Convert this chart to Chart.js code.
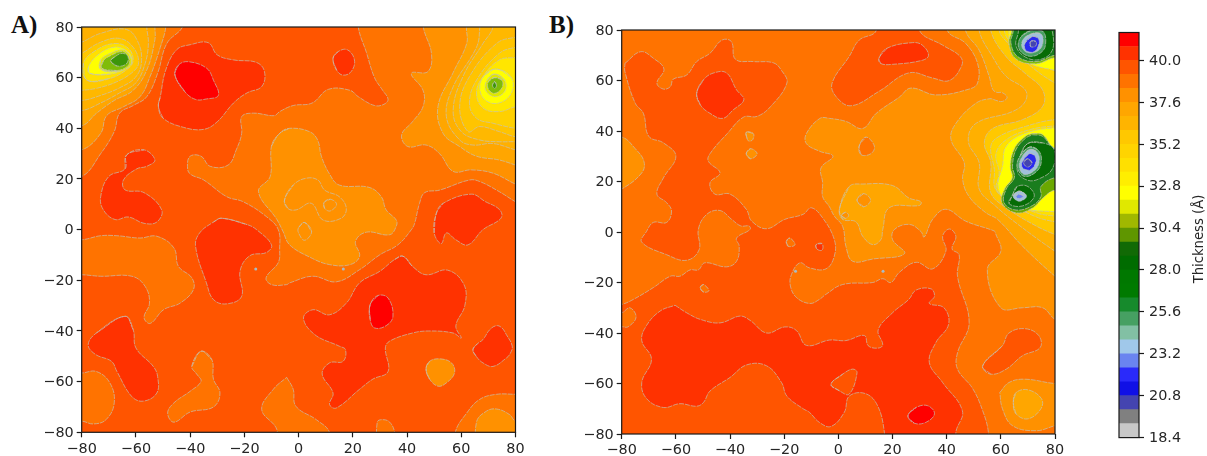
<!DOCTYPE html>
<html><head><meta charset="utf-8">
<script src="https://cdn.jsdelivr.net/npm/chart.js@4"></script>
<style>
html,body{margin:0;padding:0;background:#fff;width:1207px;height:456px;overflow:hidden}
canvas{position:absolute;top:0}
.tag{position:absolute;font:bold 25px "Liberation Serif",serif;color:#111;line-height:25px}
</style></head><body>
<div class="tag" style="left:11px;top:12px">A)</div>
<div class="tag" style="left:549px;top:12px">B)</div>
<canvas id="ca" style="left:0" width="540" height="456"></canvas>
<canvas id="cb" style="left:540px" width="560" height="456"></canvas>
<canvas id="cc" style="left:1100px" width="107" height="456"></canvas>
<script>
// axis ticks
const axisTicks=[-80,-60,-40,-20,0,20,40,60,80];
const barTicks=[18.4,20.8,23.2,25.6,28.0,30.4,32.8,35.2,37.6,40.0];
// colour bar: band edges and colours (bottom to top)
const barEdges=[18.4,19.2,20,20.8,21.6,22.4,23.2,24,24.8,25.6,26.4,27.2,28,28.8,29.6,30.4,31.2,32,32.8,33.6,34.4,35.2,36,36.8,37.6,38.4,39.2,40,40.8,41.6];
const barColors=['#c8c8c8','#808080','#4444b0','#1010e6','#2a2afa','#6a84f0','#a0c8ea','#82c0a4','#46a062','#168a2c','#007a00','#007800','#006c00','#116a05','#5f9600','#a0b800','#e0e800','#ffff00','#ffee00','#ffe000','#ffd400','#ffc800','#ffb400','#ffa600','#ff9100','#ff7300','#ff5500','#ff3200','#ff0000'];
const C={r:'#ff0000',r1:'#ff3200',o1:'#ff5500',o2:'#ff7300',o3:'#ff9100',o4:'#ffa600',o5:'#ffb000',o6:'#ffb800',y0:'#ffc400',y1:'#ffc800',y15:'#ffd000',y2:'#ffd400',y3:'#ffe000',y35:'#ffe600',y4:'#ffee00',y5:'#ffff00',g1:'#e0e800',g2:'#80bc08',g3:'#3d960a',d1:'#1a7d1e',d2:'#066c06',d3:'#46a062',l1:'#a0c0dc',b1:'#2a2af0',b2:'#4444b0',gy:'#808080'};

// ---------- Panel A contour regions [x,y] ----------
const aBase=[[-90,-90],[90,-90],[90,90],[-90,90]];
const aO2a=[[-90,21],[-80,21],[-73,30],[-68,38.7],[-66,46],[-61,49],[-56,52.5],[-52,61.7],[-48.6,73.5],[-42.8,80],[-40,90],[-90,90]];
const aO2b=[[22,90],[22,80],[25,70],[28,60],[31,55],[33,51.5],[31.5,49.5],[28,49],[22,52.5],[19,55],[11,55.4],[5,50],[-2,49],[-7,46.6],[-9,45],[-16.7,46],[-21,44.6],[-21,38],[-23,31.5],[-26,25.5],[-32.6,25],[-36,29],[-40,29],[-41,25],[-40,22],[-35,19.6],[-26.5,13],[-20.4,11],[-11.7,5],[-7.5,0],[-7,-7.9],[-7.5,-13],[-12,-19],[-10,-21.7],[-4.4,-21.7],[-3.3,-21],[5.3,-18.4],[13.9,-20.6],[22.5,-15.8],[30,-9.9],[36.6,-6],[41.6,0],[42.8,2.5],[44.6,10.4],[46.5,14.6],[52,15.6],[63,19.6],[66.8,19],[74,15],[80,11],[90,5],[90,90]];
const aO2c=[[-90,-4],[-80,-4],[-73,-2.4],[-67,-2.4],[-58.5,-3.3],[-52.3,-2.6],[-46,-7.2],[-44.3,-14.5],[-39.4,-19],[-38.8,-23.7],[-43.7,-29],[-49.8,-31.6],[-54.7,-37],[-57,-34.7],[-55,-29],[-56.6,-22.4],[-61.5,-18.4],[-73,-18.4],[-80,-17.8],[-90,-17.8]];
const aO2d=[[-90,-56.6],[-80,-56.6],[-74.6,-56],[-69.6,-60.5],[-68,-68.4],[-71,-75],[-75.7,-76.7],[-80,-75.6],[-90,-75.6]];
const aO2e=[[-36,-48],[-32,-51.3],[-31.4,-59],[-29,-64.5],[-31.4,-70],[-40,-72],[-46,-76],[-48.3,-72.4],[-46,-68.4],[-40,-63.8],[-36,-59.9],[-37.6,-57],[-39.4,-54]];
const aO2f=[[-4.4,-58.3],[-2,-63],[-1,-69.7],[6.5,-75],[11.4,-80],[12,-90],[-8,-90],[-8,-79],[-13.6,-71],[-9.3,-63]];
const aO2g=[[29,-90],[29,-76],[31,-75],[33.6,-76],[35.4,-80],[36,-90]];
const aO2h=[[57.8,-90],[57.8,-80],[62,-72.4],[66.8,-67],[73,-65],[80,-65],[90,-65],[90,-90]];
const aO3a=[[-7,38],[-3.3,40],[4,38.7],[7,35.4],[8.4,29],[11.4,22],[15,17.6],[26,16.7],[30.5,13],[32.3,7.8],[36,3.8],[36,1.3],[33.6,-2],[25,-1],[21,-4.6],[22.5,-10.5],[19,-13.8],[11.4,-13.8],[4,-10.8],[-3.3,-6],[-5.8,-0.6],[-8,4],[-14.8,15],[-10.5,21],[-10,33]];
const aO3b=[[46,90],[46,80],[49,69.6],[47.7,62.4],[41.6,61.7],[45.9,55],[45.9,48.6],[42,42.6],[38,37.4],[40.3,32.8],[47,33.4],[52,30],[57,23],[63.7,23.6],[71.7,22.3],[80,18],[90,14],[90,90]];
const aO3c=[[47,-55],[48.3,-52],[52,-51],[56.4,-52.6],[57.5,-56.6],[54.5,-60.5],[51.4,-61.8],[48.3,-59]];
const aO3d=[[65.6,-90],[65.6,-76],[69.2,-71.7],[73,-70.8],[77.8,-73],[80,-75.7],[90,-80],[90,-90]];
const aO3e=[[-90,31.5],[-80,31.5],[-73,38],[-70.8,45],[-64.6,48.5],[-58.5,52.5],[-54.8,60.4],[-51,72],[-49,80],[-49,90],[-90,90]];
const aRingIn=[[-5.2,11.7],[-2,17.6],[2.8,20.3],[7.1,19.6],[9.6,15.6],[15,13],[17.6,8.4],[15.7,4.5],[9,3.8],[4.7,10.4],[-0.9,7.8],[-4,8.4]];
const aRingDot=[[9.4,10.7],[11.7,12],[14,10],[11.7,7.4],[9.6,8.4]];
const aRingOval=[[2.2,2.8],[4.8,-0.8],[2.2,-4.2],[0,-1.3],[0,0.8]];
const aR1a=[[-51.7,48.6],[-51,52.5],[-49,63],[-45,71],[-40,73],[-33.3,73.8],[-30,69],[-24,67],[-15.5,66],[-12.6,62.4],[-13.6,56.5],[-19,54],[-24,50],[-30,42.6],[-35,39.6],[-42.5,40.4],[-50,44]];
const aR1b=[[12.7,67.6],[14.6,70.3],[18,71],[20.6,67],[19.4,62.4],[16.4,61],[14,63]];
const aR1c=[[-63.4,29.5],[-57,31.5],[-53,27.5],[-56,25],[-59.7,24],[-64.6,19.6],[-64,15.7],[-57,14.6],[-50.5,7.8],[-52.3,3],[-57,2.5],[-62.8,5],[-67.7,4],[-72,7.8],[-73,13],[-70,21],[-64,24]];
const aR1d=[[-28.4,4.5],[-19,2],[-15.5,0],[-10,-6],[-11.8,-9],[-18,-10.3],[-21.6,-16.4],[-21,-26.3],[-26.5,-29.3],[-31.4,-27.6],[-34,-21],[-38,-6.6],[-36.5,-1.3],[-31.4,3]];
const aR1e=[[-64,-34.2],[-61,-39.5],[-60,-46.7],[-53.6,-54],[-52,-58],[-52.3,-64.5],[-57.3,-67.7],[-61.6,-65.8],[-67,-56],[-69,-52],[-75,-49.2],[-77.6,-45.4],[-74.6,-40.8]];
const aR1f=[[38.5,-10.5],[42,-14.5],[47,-17.8],[55,-16],[61,-21.7],[61.3,-30],[58,-38],[60,-42.8],[57,-40.8],[48,-40],[42,-40.8],[33.6,-44],[32,-46.7],[33,-56],[27.4,-59],[22.5,-63],[13.9,-70.4],[11.4,-69],[12.7,-64.5],[8.7,-57],[11.4,-52.6],[16.4,-52],[17.3,-47.4],[15,-46],[5.9,-41.4],[1.8,-34.9],[5.3,-31.6],[11.4,-33.6],[17.6,-29],[22.5,-21],[30,-16.4],[35.4,-11.8]];
const aR1g=[[50.8,6.4],[53.3,10.4],[63.7,14],[69,11],[73.5,8.5],[75,6],[74,3.8],[68,0],[62.5,-6],[58,-4],[54.5,-1.3],[52.6,-5.5],[50,-1.3]];
const aR1h=[[64.3,-47.4],[66,-45],[68,-43.4],[70.5,-39.5],[73,-37.9],[75,-38.8],[76.6,-41.4],[78.8,-46],[78,-49],[76.6,-50.7],[71.7,-54],[68,-52.6],[65.5,-50]];
const aRa=[[-45.6,61],[-44.3,65],[-40.6,66.3],[-33.9,63.7],[-31.4,59],[-29.6,53],[-34,51.6],[-38,51.4],[-42,54.5]];
const aRb=[[26.4,-29.6],[29.3,-26],[33,-27],[34.8,-34.2],[32.3,-37.9],[28,-38.8],[26.4,-35.5]];
// top-right peak of A
const aTr1=[[62,90],[61.9,79.5],[62,73.5],[57,62],[51.4,48.6],[53.3,38],[59.4,32.8],[65.6,29],[74,27.5],[80,25.5],[90,22],[90,90]];
const aTr2=[[67,90],[66.8,79.5],[65.6,72],[57,56.4],[54.5,44.6],[59.4,35.4],[64.3,33.4],[71.7,34],[80,31.5],[90,29],[90,90]];
const aTr3=[[72,90],[71.7,80],[68,73.5],[60.6,60.4],[57,47],[60,38.7],[66.8,35.4],[74,34.7],[80,34.7],[90,34],[90,90]];
const aTr4=[[90,78],[80,76],[73,73.5],[63,60.4],[59.4,48.6],[62.5,38.7],[66.8,40.7],[74,38.7],[80,36.7],[90,36]];
const aTr5=[[90,74],[80,72],[74,69.6],[65.6,59],[63,50],[65.6,44],[71.7,42],[80,40],[90,39]];
const aTr6=[[90,70],[80,68],[74,67],[68,60.4],[65.6,54],[68,48],[74,46.6],[80,48.5],[90,50]];
const aTr7=[[73,63.4],[68.6,61],[66.8,55.8],[69,51],[74,50],[78.5,54],[78.5,60]];
const aTr8=[[72.3,61.4],[69.5,59],[69,55],[72.3,52.5],[76,54.5],[76,59]];
const aTr9=[[72.3,60],[70,58.4],[70,55.5],[72.3,53.8],[75,56],[75,59]];
const aTr10=[[72.3,58.4],[71.5,57],[72.3,55.7],[73,57]];
// top-left peak of A
const aTl1=[[-90,41],[-80,41],[-74.5,46],[-68,51],[-61,55],[-56,63],[-53,75],[-53,80],[-53,90],[-90,90]];
const aTl2=[[-90,47],[-80,47],[-73,50],[-66,54],[-60,58],[-56.6,65.6],[-55.4,73.5],[-56,80],[-56,90],[-90,90]];
const aTl3=[[-90,51],[-80,51],[-73,53],[-66,56],[-60.3,60],[-58,65.7],[-59,73.5],[-63.4,79],[-73,77.5],[-80,74],[-90,70]];
const aTl4=[[-90,54],[-80,55],[-74.5,55.8],[-67,58.4],[-61,62.4],[-59,66],[-61,72],[-66,75.5],[-73,74],[-80,69.6],[-90,64]];
const aTl5=[[-78,59],[-69.5,59.7],[-62.8,63.7],[-61,67],[-62.8,71.6],[-67.7,73.5],[-74.5,71],[-79.4,65.6]];
const aTl6=[[-77,61.7],[-69.5,61.4],[-62.8,64.3],[-61.5,67.6],[-64,71],[-68.3,72],[-74,69],[-77.5,64.3]];
const aTl7=[[-73,63.3],[-67,62.4],[-62,65],[-62.4,69],[-65,71],[-69.5,69.6],[-73,67]];
const aTl8=[[-72.6,63.7],[-67,62.8],[-62.7,65],[-62.8,68.3],[-65,70.3],[-69.5,68.6],[-72,66.7]];
const aTl9=[[-69.3,66.6],[-67,64.6],[-63.6,65.4],[-62.9,68.3],[-65,69.6],[-67.7,68.3]];
const aDots=[[-15.8,-15.5],[16.5,-15.5]];

// ---------- Panel B contour regions [x,y] ----------
const bBase=[[-90,-90],[90,-90],[90,90],[-90,90]];
const bO3a=[[40.3,90],[40.3,79.7],[47,74.7],[51.4,66.8],[51.4,59],[48.3,56.6],[36,54.3],[26.8,57],[22.5,53.4],[14,47],[9,41],[2.8,43.8],[-3.3,45],[-6.8,45],[-11.8,39],[-11.8,35],[-7,32],[-2,30],[-6.4,25.4],[-5.8,19.5],[-5.8,14],[-3.3,10],[-1.5,6.3],[1.6,2.2],[2.8,-5.7],[5.3,-11.6],[12.7,-10.7],[24.4,-8.6],[20,-3],[20.7,1],[26.2,3],[30.5,0.2],[31.7,-2],[34.8,5],[39.7,9],[47,4.3],[57.6,0.4],[58,-0.4],[60,-7.6],[55,-14.9],[60,-30],[68,-30],[75.4,-30],[80,-34.6],[90,-40],[90,90]];
const bO3b=[[-90,37.6],[-80,37.6],[-75,33],[-71.8,28],[-72.6,23.4],[-80,17],[-90,12]];
const bO3c=[[-34,39.5],[-31.4,39],[-31.6,36.6],[-33,36],[-33.7,37]];
const bO3d=[[-34,31],[-32.4,33],[-30,31],[-32.4,29]];
const bO3e=[[59.6,-63.6],[63,-59.6],[69,-58.3],[80,-60],[90,-60],[90,-74],[80,-76.7],[73,-78.7],[64.3,-76.7],[60.6,-70]];
const bO4a=[[64.6,-67.5],[65.6,-63.6],[70,-62.5],[75,-66],[74.8,-70],[70,-74],[65.6,-72]];
const bHole=[[7.7,34],[10.2,37.6],[13.3,34],[12,31],[8.4,30.6]];
const bO4b=[[0.4,9],[4,18],[9,19],[20,18.4],[26,13.5],[30.5,12],[29.9,10.5],[18.8,9.6],[16.4,1],[15.7,-3],[12.7,-5],[9,-1.7],[6.5,4],[1.6,5]];
const bO3f=[[6.9,12.6],[9.3,15.2],[11.9,12.6],[9.3,10]];
const bO3g=[[1.2,6.6],[2.6,7.8],[3.8,6.6],[2.6,5.4]];
const bO4c=[[47,90],[47,79.7],[52,72],[55.7,61.6],[57,56.5],[58.5,55.3],[60.5,55.2],[62.3,53.3],[60.5,51.7],[58,52.2],[56,52.8],[50.8,51],[43.4,43],[41.6,36.6],[46.5,27.4],[45.9,20.8],[48.3,14],[54.5,7.6],[58.8,5],[68,-5.6],[80,-17.5],[90,-26],[90,90]];
const bO5=[[52,90],[52,79.7],[56.9,69.5],[61.9,61.7],[69,56.3],[69,51.7],[64.3,47.7],[50.8,43],[48,35.9],[52,27.4],[52,17],[58,10.3],[65.6,3.6],[80,-7.6],[90,-14],[90,90]];
const bY1=[[56.3,90],[56.3,79.7],[61.9,69.5],[69,62.8],[75.4,56.3],[75.4,49.7],[68,44.5],[57,41],[53.9,35.3],[56.3,27.4],[56.3,15.5],[63,8.9],[73,2.4],[80,-1],[90,-5],[90,90]];
const bY2a=[[59.4,90],[59.4,79.7],[62.4,75],[68,68.4],[80,59],[90,55],[90,90]];
const bY2b=[[90,44],[80,44.5],[69,41.8],[59.4,37.9],[56.3,34],[57.6,24.7],[58,17],[64.3,11],[73,6],[80,4],[90,2]];
const bY3a=[[61.3,90],[61.3,79.7],[63.7,75],[70.5,69],[80,64],[90,60],[90,90]];
const bY3b=[[90,42],[80,42],[70.5,40.5],[62,36.6],[58.2,31],[59.4,23.4],[58.5,16.5],[65.6,11.3],[74,7.3],[80,6.3],[90,5]];
const bY4a=[[63,90],[63,79.7],[64,72],[70.5,66.8],[80,64],[90,62],[90,90]];
const bY4b=[[90,41],[80,41.3],[68.9,39],[62,34],[60.6,26],[59,18],[62,12],[69,9],[80,8],[90,7]];
const bTop1=[[64,90],[64,79.7],[63,75],[65.5,68.6],[73,66.6],[80,69],[90,68],[90,90]];
const bTop2=[[64.6,90],[64.6,79.7],[63.7,75],[66.2,69.5],[73,67.5],[80,70],[90,70],[90,90]];
const bTop3=[[66.5,90],[66.5,79.5],[65.6,73.8],[69.2,69.2],[74.8,68.4],[79,72],[79,79.5],[76,90]];
const bTop4=[[71.7,80],[67.5,77.4],[66.6,72.8],[70.5,69.6],[75.4,71.6],[76.6,76],[75.4,79.6]];
const bTop5=[[71.7,78.6],[68.4,76.5],[67.9,73],[70.5,70.9],[74.4,72.4],[75.6,76],[74.6,78.6]];
const bTop6=[[71.7,77.4],[69,75],[69.2,72],[72.3,71.4],[74.2,75],[73.5,77]];
const bTop7=[[71,75.5],[72.9,75.5],[72.9,73.7],[71,73.4]];
const bLowOlive=[[71.7,39],[75.4,38.6],[80,33],[90,33],[90,15],[80,16.5],[75.6,13.5],[71.7,9.5],[65.6,7.6],[60.4,11.6],[61.4,17],[64.2,21.5],[63.5,26],[65,33],[69.2,38]];
const bLow1=[[71.7,38.5],[75.4,37.9],[80,33],[90,33],[90,22],[80,21.5],[74.8,18],[74.8,14],[71.7,10.5],[65.6,8.7],[61.2,11.6],[62,17],[65,21.5],[64.3,26],[65.6,32.6],[69.2,37.2]];
const bLow2=[[69.9,35],[67.1,30],[66.2,23.8],[69.9,20.5],[74,21],[79,25],[79.7,32.6],[75.4,35.3]];
const bLow3=[[64.3,14.6],[63,11.3],[67.9,10.3],[72.3,14],[70,18],[66,18]];
const bLow4=[[70.5,33.6],[67.3,30.4],[66,26],[68.7,22],[73.6,24.4],[75,29],[73.6,32.6]];
const bLow5=[[70.5,32.6],[68,30],[66.8,26],[68.7,22.8],[73,25],[74.2,29],[73,32]];
const bLow6=[[70.5,31],[68,28],[68,25.4],[71,24.7],[73,28],[72.3,30.5]];
const bLow7=[[69.9,29],[68.4,27.4],[69.9,25.7],[71.5,27.4]];
const bLow8=[[66.8,16.2],[64.5,14.2],[66.8,12.2],[69.5,14.2]];
const bLow9=[[66.8,15],[65.5,14.2],[66.8,13.2],[68.3,14.2]];
const bO1a=[[-78.8,66.8],[-73,71.4],[-68.3,68.8],[-64.4,64.5],[-67,59],[-64.6,56.6],[-62,57.6],[-61,60.5],[-56,62.2],[-52.3,67.5],[-47.4,70.8],[-43,76],[-39.5,75.4],[-38,68.4],[-31.4,67.5],[-24,67],[-21,64],[-19,59],[-25,49.7],[-30,45.8],[-35,45.5],[-41,39],[-47.4,31],[-48,28],[-43.7,23.4],[-47.4,19.5],[-45.6,15],[-40,15],[-34,9],[-32,4.3],[-26.5,1.3],[-19.8,5],[-13,7],[-10,9.6],[-5.8,5.6],[-1.5,-3],[-1.5,-9.6],[-4.6,-14.6],[-10.7,-14.2],[-14.2,-12.2],[-17.3,-16.8],[-17.7,-21.4],[-15.4,-26],[-10.5,-28.3],[-7,-26.7],[-4.6,-24.7],[1.6,-20.8],[12.7,-20],[16.4,-18.5],[19.4,-20],[22.5,-16],[28.7,-12],[34.8,-14.6],[39.7,-7.6],[38.5,-1.7],[41,1.2],[43.4,-1.7],[42,-6.7],[44.6,-9],[44,-17.5],[48.3,-35.9],[44,-47.8],[44,-54.3],[49.6,-62],[53.3,-70.8],[55.4,-79.3],[55.4,-90],[-90,-90],[-90,-31],[-80,-28.7],[-75.7,-26.7],[-68.3,-22],[-62,-17.5],[-58.5,-17.5],[-54.7,-15],[-51.7,-15],[-49.3,-12.2],[-41.3,-13.8],[-37.6,-11.6],[-36.6,-5.7],[-37.6,-2.4],[-32.6,1],[-33,2.4],[-36,2.4],[-39.4,5],[-43.7,8.5],[-48.6,7],[-51.7,1],[-51.4,-7],[-56,-11.2],[-63.4,-9],[-72.6,-4],[-70.8,0.3],[-68.3,3.8],[-63.4,3.8],[-61.6,8.3],[-63.4,11.6],[-67,15],[-64.6,21.4],[-60,30],[-64.6,35.3],[-70,37.9],[-72,47],[-75,51],[-78.8,63.5]];
const bO1b=[[13.9,90],[13.9,79.6],[7.7,76],[4,69.5],[-2.3,59],[-0.9,53.7],[4.7,50],[15,55.7],[26,63],[34.8,61],[41,60],[45.6,66],[45,69.5],[38.5,74],[30,79.7],[30,90]];
const bO1c=[[53.3,-53],[60.6,-45],[63,-40],[69,-38.3],[74,-41],[74.5,-45.8],[68,-49],[62,-54.3],[56.3,-56.3]];
const bO2a=[[-19.2,-3.7],[-17.9,-2.4],[-16,-5],[-18.5,-5.7]];
const bO2b=[[-51,-22],[-49.8,-20.8],[-47.8,-23.2],[-49.8,-23.8]];
const bO2c=[[-90,-37.5],[-80,-37.5],[-77.6,-37.5],[-74.7,-33.7],[-77,-30],[-80,-32],[-90,-34]];
const bR1a=[[-52.3,55],[-49.8,60.3],[-46,63],[-41.3,63],[-37.6,56.3],[-34.9,52.4],[-38.8,48.4],[-42.7,45],[-47.4,47],[-51,50.4]];
const bR1b=[[15,68.8],[18,72.8],[27.4,75],[31,74],[33.3,70],[31,68],[20,66.4],[15.7,66.7]];
const bR1c=[[-60.3,-29],[-56,-32],[-51,-34.6],[-43.7,-36],[-36.3,-33.3],[-32.6,-35],[-26.5,-40],[-19.8,-37.6],[-15.5,-39],[-11.8,-44.9],[-3.3,-42.8],[2.8,-43],[9.6,-41],[11,-45],[14.5,-46],[16.4,-44.7],[14.7,-38.8],[20,-32],[26,-26.7],[28.7,-23],[34.2,-22.5],[35.5,-25.4],[33.6,-28.3],[39,-30],[40.7,-36.6],[36,-43.8],[33.6,-51.7],[38.5,-59.6],[45.8,-70.8],[43.4,-79.3],[43.4,-90],[17.5,-90],[17,-79.3],[14.5,-68.8],[10,-64],[4,-65],[2.2,-71.4],[-2.7,-77],[-7,-75.4],[-10.7,-71.4],[-13,-70],[-19,-65],[-21,-59.6],[-26.5,-53],[-33.8,-52.6],[-40,-57.6],[-47.4,-63],[-49.8,-67.5],[-52.3,-69],[-58.5,-68],[-64.6,-69.5],[-70.8,-66],[-72.6,-59.6],[-69,-50.4],[-72.6,-43],[-70.8,-37],[-65.8,-31.3]];
const bO1d=[[-2.7,-60.3],[1.6,-56.3],[5.3,-54.3],[6.9,-55.7],[4,-64.2],[0.4,-62.9]];
const bRa=[[25.7,-72.8],[28.7,-69.5],[33,-68.8],[35.5,-72],[32.3,-75.4],[28,-75.7]];
const bR1d=[[-8.2,-5],[-6,-4.6],[-6,-7.2],[-8,-6.7]];
const bDots=[[-15.8,-15.5],[16.5,-15.5]];

const layersA=[[aBase,C.o1,0],[aO2a,C.o2],[aO2b,C.o2],[aO2c,C.o2],[aO2d,C.o2],[aO2e,C.o2],[aO2f,C.o2],[aO2g,C.o2],[aO2h,C.o2],
[aO3a,C.o3],[aO3b,C.o3],[aO3c,C.o3],[aO3d,C.o3],[aO3e,C.o3],[aRingIn,C.o3],[aRingDot,C.o3],[aRingOval,C.o3],
[aR1a,C.r1],[aR1b,C.r1],[aR1c,C.r1],[aR1d,C.r1],[aR1e,C.r1],[aR1f,C.r1],[aR1g,C.r1],[aR1h,C.r1],[aRa,C.r],[aRb,C.r],
[aTr1,C.o4],[aTr2,C.o5],[aTr3,C.o6],[aTr4,C.y0],[aTr5,C.y15],[aTr6,C.y35],[aTr7,C.y5],[aTr8,C.g1],[aTr9,C.g2],[aTr10,C.g3],
[aTl1,C.o4],[aTl2,C.o5],[aTl3,C.o6],[aTl4,C.y1],[aTl5,C.y3],[aTl6,C.y5],[aTl7,C.g1],[aTl8,C.g2],[aTl9,C.g3]];
const layersB=[[bBase,C.o2,0],[bO3a,C.o3],[bO3b,C.o3],[bO3c,C.o3],[bO3d,C.o3],[bO3e,C.o3],[bO4a,C.o4],[bHole,C.o2],[bO4b,C.o4],[bO3f,C.o3],[bO3g,C.o3],
[bO4c,C.o4],[bO5,C.o5],[bY1,C.y1],[bY2a,C.y2],[bY2b,C.y2],[bY3a,C.y3],[bY3b,C.y3],[bY4a,C.y5],[bY4b,C.y5],
[bTop1,C.g2],[bTop2,C.d1],[bTop3,C.d2],[bTop4,C.d3],[bTop5,C.l1],[bTop6,C.b1],[bTop7,C.b2],
[bLowOlive,'#6aa800'],[bLow1,C.d1],[bLow2,C.d2],[bLow3,C.d2],[bLow4,C.d3],[bLow5,C.l1],[bLow6,C.b1],[bLow7,C.b2],[bLow8,C.l1],[bLow9,'#6a84f0'],
[bO1a,C.o1],[bO1b,C.o1],[bO1c,C.o1],[bO2a,C.o2],[bO2b,C.o2],[bO2c,C.o2],[bR1a,C.r1],[bR1b,C.r1],[bR1c,C.r1],[bO1d,C.o1],[bRa,C.r],[bR1d,C.r1]];

const FONT={family:'"DejaVu Sans",sans-serif',size:14.4};
const TXT='#262626';
const frame={id:'frame',afterDraw(ch){const a=ch.chartArea,c=ch.ctx;c.save();c.strokeStyle='#1a1a1a';c.lineWidth=1.2;c.strokeRect(a.left,a.top,a.width,a.height);c.restore();}};
function loopPts(arr){
  const n=arr.length;
  const inside=arr.every(p=>Math.abs(p[0])<=81&&Math.abs(p[1])<=81);
  const seq=inside?[arr[n-1],...arr,arr[0],arr[1]]:[...arr,arr[0]];
  return seq.map(p=>({x:p[0],y:p[1]}));
}
function panel(id,layers,dots,g){
  const ds=layers.map((l,i)=>{
    const lined=l[2]!==0;
    return {data:loopPts(l[0]),showLine:true,fill:'shape',backgroundColor:l[1],borderColor:lined?'rgba(196,196,186,.85)':l[1],borderWidth:lined?0.8:0,borderDash:[5,1],tension:0.4,capBezierPoints:false,pointRadius:0,order:layers.length-i+1};
  });
  ds.push({data:dots.map(p=>({x:p[0],y:p[1]})),showLine:false,pointRadius:1.5,pointBackgroundColor:'#a9bcc4',pointBorderWidth:0,order:0});
  const tick={color:TXT,font:FONT,padding:3,autoSkip:false,maxRotation:0,callback:v=>String(v).replace('-','\u2212')};
  const common={type:'linear',min:-80,max:80,grid:{drawOnChartArea:false,drawTicks:true,tickLength:5,color:'#1a1a1a',tickWidth:1.2},border:{display:false},
    afterBuildTicks:s=>{s.ticks=axisTicks.map(v=>({value:v}));}};
  return new Chart(document.getElementById(id),{type:'scatter',data:{datasets:ds},plugins:[frame],
    options:{responsive:false,animation:false,events:[],layout:{padding:{left:0,right:g.r,top:g.t,bottom:0}},
      plugins:{legend:{display:false},tooltip:{enabled:false},title:{display:false}},
      scales:{x:{...common,ticks:tick,afterFit:s=>{s.height=g.b;}},y:{...common,ticks:{...tick,labelOffset:0.8},afterFit:s=>{s.width=g.l;}}}}});
}
panel('ca',layersA,aDots,{l:81.7,r:24.5,t:27,b:23.7});
panel('cb',layersB,bDots,{l:81.7,r:45,t:30,b:22});

new Chart(document.getElementById('cc'),{type:'bar',
  data:{labels:['t'],datasets:barColors.map((c,i)=>({data:[[barEdges[i],barEdges[i+1]]],backgroundColor:c,borderWidth:0,barPercentage:1,categoryPercentage:1,grouped:false}))},
  plugins:[frame,{id:'ylab',afterDraw(ch){const c=ch.ctx;c.save();c.translate(100,239);c.rotate(-Math.PI/2);c.fillStyle=TXT;c.font='13.2px "DejaVu Sans"';c.textAlign='center';c.textBaseline='middle';c.fillText('Thickness (\u00c5)',0,0);c.restore();}}],
  options:{responsive:false,animation:false,events:[],layout:{padding:{left:19,right:0,top:32.5,bottom:18.4}},
    plugins:{legend:{display:false},tooltip:{enabled:false}},
    scales:{x:{display:false},
      y:{position:'right',min:18.4,max:41.6,grid:{drawOnChartArea:false,tickLength:5,color:'#1a1a1a',tickWidth:1.2},border:{display:false},
        afterBuildTicks:s=>{s.ticks=barTicks.map(v=>({value:v}));},afterFit:s=>{s.width=68;},
        ticks:{color:TXT,font:FONT,padding:5,autoSkip:false,labelOffset:0.6,callback:v=>Number(v).toFixed(1)}}}}});
</script>
</body></html>
